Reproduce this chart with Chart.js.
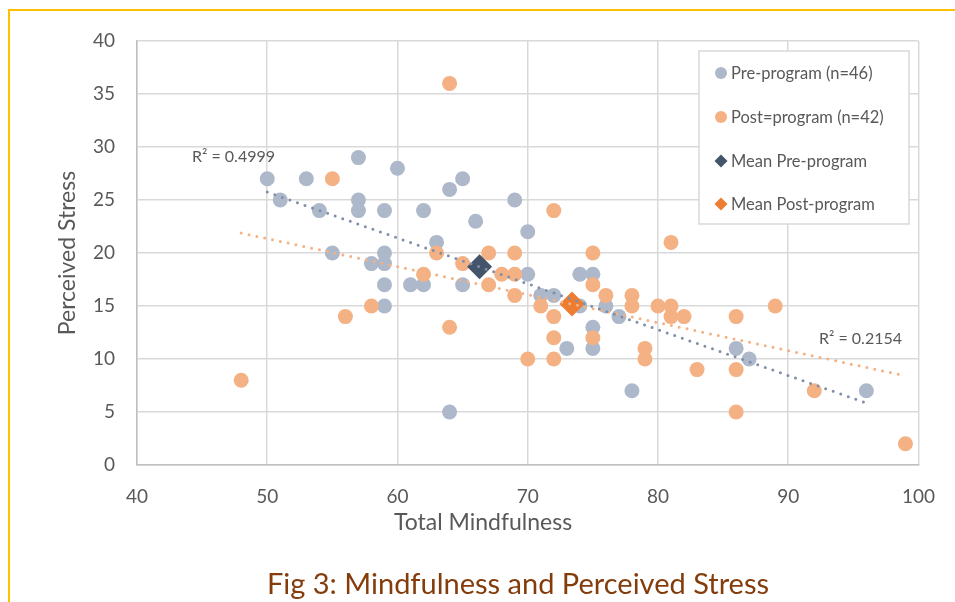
<!DOCTYPE html>
<html>
<head>
<meta charset="utf-8">
<script src="https://cdn.jsdelivr.net/npm/chart.js@4.4.1/dist/chart.umd.min.js"></script>
<style>
  html, body { margin: 0; padding: 0; background: #fff; }
  #wrap { width: 955px; height: 602px; position: relative; }
</style>
</head>
<body>
<div id="wrap"><canvas id="chart" width="955" height="602"></canvas></div>
<script>
// pre-program scores (mindfulness, stress)
const preX = [50, 51, 53, 54, 55, 57, 57, 57, 58, 59, 59, 59, 59, 59, 60, 61, 62, 62, 63, 64, 64,
  65, 65, 66, 69, 70, 70, 71, 72, 73, 74, 75, 75, 75, 74, 76, 77, 78, 86, 87, 96];
const preY = [27, 25, 27, 24, 20, 29, 25, 24, 19, 24, 20, 19, 17, 15, 28, 17, 24, 17, 21, 26, 5,
  27, 17, 23, 25, 22, 18, 16, 16, 11, 18, 18, 13, 11, 15, 15, 14, 7, 11, 10, 7];

// post-program scores
const postX = [48, 55, 56, 58, 62, 63, 64, 64, 65, 67, 67, 68, 69, 69, 69, 70, 71, 72, 72, 72, 72,
  75, 75, 75, 76, 78, 78, 79, 79, 80, 81, 81, 81, 82, 83, 86, 86, 86, 89, 92, 99];
const postY = [8, 27, 14, 15, 18, 20, 36, 13, 19, 20, 17, 18, 20, 18, 16, 10, 15, 24, 14, 12, 10,
  20, 17, 12, 16, 16, 15, 11, 10, 15, 21, 15, 14, 14, 9, 14, 9, 5, 15, 7, 2];

const meanPre = [66.3, 18.7];
const meanPost = [73.4, 15.2];

const xTicks = [40, 50, 60, 70, 80, 90, 100];
const yTicks = [0, 5, 10, 15, 20, 25, 30, 35, 40];

const legendLabels = ["Pre-program (n=46)", "Post=program (n=42)", "Mean Pre-program", "Mean Post-program"];
const r2Labels = ["R\u00b2 = 0.4999", "R\u00b2 = 0.2154"];

const FONT = "Lato, 'Open Sans', sans-serif";
const TXT = "#595959";

function toPoints(xs, ys) {
  return xs.map((x, i) => ({ x: x, y: ys[i] }));
}

// least squares trendline between min and max x
function trend(xs, ys) {
  const n = xs.length;
  const mx = xs.reduce((a, b) => a + b, 0) / n;
  const my = ys.reduce((a, b) => a + b, 0) / n;
  let sxy = 0, sxx = 0;
  for (let i = 0; i < n; i++) {
    sxy += (xs[i] - mx) * (ys[i] - my);
    sxx += (xs[i] - mx) * (xs[i] - mx);
  }
  const b = sxy / sxx;
  const a = my - b * mx;
  const x0 = Math.min(...xs), x1 = Math.max(...xs);
  return [{ x: x0, y: a + b * x0 }, { x: x1, y: a + b * x1 }];
}

const extras = {
  id: "extras",
  afterDraw(chart) {
    const ctx = chart.ctx;
    ctx.save();

    // frame
    ctx.strokeStyle = "#FFC000";
    ctx.lineWidth = 2;
    ctx.strokeRect(9, 10, 1000, 700);

    // axis titles
    ctx.fillStyle = TXT;
    ctx.font = "23px " + FONT;
    ctx.textAlign = "center";
    ctx.textBaseline = "middle";
    ctx.fillText("Total Mindfulness", 483, 523);
    ctx.save();
    ctx.translate(68, 253);
    ctx.rotate(-Math.PI / 2);
    ctx.fillText("Perceived Stress", 0, 0);
    ctx.restore();

    // R² labels
    ctx.font = "16px " + FONT;
    ctx.textAlign = "left";
    ctx.fillText(r2Labels[0], 192, 157);
    ctx.fillText(r2Labels[1], 819, 339);

    // legend
    ctx.fillStyle = "#fff";
    ctx.fillRect(699, 51, 210, 173);
    ctx.strokeStyle = "#D9D9D9";
    ctx.lineWidth = 1.5;
    ctx.strokeRect(699, 51, 210, 173);
    const cols = ["#ADB9CA", "#F4B183", "#44546A", "#ED7D31"];
    const rows = [73, 117, 161, 204];
    ctx.font = "16.5px " + FONT;
    rows.forEach((y, i) => {
      ctx.fillStyle = cols[i];
      ctx.beginPath();
      if (i < 2) {
        ctx.arc(721, y, 6, 0, Math.PI * 2);
      } else {
        ctx.moveTo(721, y - 6.5);
        ctx.lineTo(727.5, y);
        ctx.lineTo(721, y + 6.5);
        ctx.lineTo(714.5, y);
        ctx.closePath();
      }
      ctx.fill();
      ctx.fillStyle = TXT;
      ctx.fillText(legendLabels[i], 731, y + 1);
    });

    // caption
    ctx.fillStyle = "#843C0C";
    ctx.font = "29px " + FONT;
    ctx.textAlign = "center";
    ctx.fillText("Fig 3: Mindfulness and Perceived Stress", 518, 585);
    ctx.restore();
  }
};

new Chart(document.getElementById("chart"), {
  type: "scatter",
  data: {
    datasets: [
      {
        type: "line",
        data: trend(preX, preY),
        borderColor: "#7F8FA9",
        borderWidth: 3,
        borderDash: [0, 8],
        borderCapStyle: "round",
        pointRadius: 0,
        fill: false
      },
      {
        type: "line",
        data: trend(postX, postY),
        borderColor: "#F4B183",
        borderWidth: 3,
        borderDash: [0, 8],
        borderCapStyle: "round",
        pointRadius: 0,
        fill: false
      },
      {
        data: [{ x: meanPost[0], y: meanPost[1] }],
        backgroundColor: "#ED7D31",
        borderColor: "#ED7D31",
        pointStyle: "rectRot",
        pointRadius: 12.5,
        borderWidth: 0
      },
      {
        data: [{ x: meanPre[0], y: meanPre[1] }],
        backgroundColor: "#44546A",
        borderColor: "#44546A",
        pointStyle: "rectRot",
        pointRadius: 12.5,
        borderWidth: 0
      },
      {
        data: toPoints(postX, postY),
        backgroundColor: "#F4B183",
        borderColor: "#F4B183",
        pointRadius: 7.5,
        borderWidth: 0
      },
      {
        data: toPoints(preX, preY),
        backgroundColor: "#ADB9CA",
        borderColor: "#ADB9CA",
        pointRadius: 7.5,
        borderWidth: 0
      }
    ]
  },
  options: {
    responsive: false,
    animation: false,
    layout: { padding: { left: 0, right: 27, top: 41, bottom: 0 } },
    plugins: {
      legend: { display: false },
      tooltip: { enabled: false }
    },
    scales: {
      x: {
        type: "linear",
        min: 40,
        max: 100,
        afterBuildTicks: (s) => { s.ticks = xTicks.map(v => ({ value: v })); },
        afterFit: (s) => { s.height = 137; },
        grid: { color: "#D9D9D9", lineWidth: 1.5, drawTicks: false },
        border: { color: "#BFBFBF", width: 1.5 },
        ticks: { color: TXT, font: { family: FONT, size: 19 }, padding: 20 }
      },
      y: {
        type: "linear",
        min: 0,
        max: 40,
        afterBuildTicks: (s) => { s.ticks = yTicks.map(v => ({ value: v })); },
        afterFit: (s) => { s.width = 137; },
        grid: { color: "#D9D9D9", lineWidth: 1.5, drawTicks: false },
        border: { color: "#BFBFBF", width: 1.5 },
        ticks: { color: TXT, font: { family: FONT, size: 19 }, padding: 22 }
      }
    }
  },
  plugins: [extras]
});
</script>
</body>
</html>
